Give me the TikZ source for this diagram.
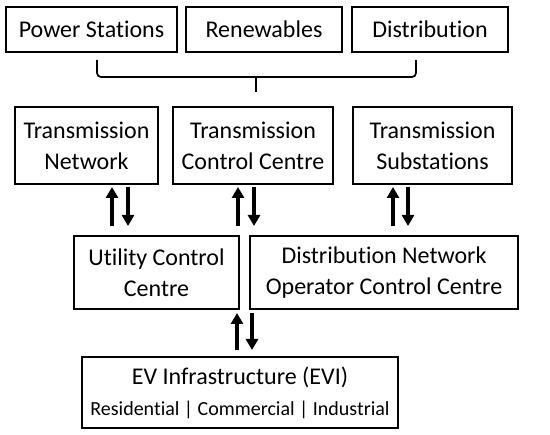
\documentclass[tikz,border=0pt]{standalone}
\usepackage{fontspec}
\setmainfont{Carlito}[Ligatures=NoCommon]
\usetikzlibrary{arrows.meta}
\begin{document}
\begin{tikzpicture}[x=1pt,y=-1pt,
  box/.style={draw, line width=1.7pt, inner sep=0pt, align=center, font=\fontsize{24}{31}\selectfont},
  arr/.style={line width=3.6pt, -{Triangle[length=11pt,width=12pt]}},
  brace/.style={line width=1.7pt, rounded corners=4pt}]
\useasboundingbox (0,0) rectangle (550,435);
% top row
\node[box, minimum width=171, minimum height=45] (ps) at (91.5,29.5) {Power Stations};
\node[box, minimum width=156, minimum height=45] (rw) at (264,29.5) {Renewables};
\node[box, minimum width=156, minimum height=45] (ds) at (430,29.5) {Distribution};
% brace
\coordinate (bl) at (97,60);
\coordinate (br) at (416,60);
\coordinate (bm) at (256,77);
\coordinate (bt) at (256,92);
\draw[brace] (bl) -- (97,77) -- (416,77) -- (br);
\draw[line width=1.7pt] (bm) -- (bt);
% second row
\node[box, minimum width=143, minimum height=77] (tn) at (86.5,145.5) {Transmission\\Network};
\node[box, minimum width=160, minimum height=77] (tcc) at (253,145.5) {Transmission\\Control Centre};
\node[box, minimum width=159, minimum height=77] (ts) at (432.5,145.5) {Transmission\\Substations};
% third row
\node[box, minimum width=165, minimum height=73] (ucc) at (156.5,272.5) {Utility Control\\Centre};
\node[box, minimum width=268, minimum height=73] (dno) at (384,272.5) {Distribution Network\\Operator Control Centre};
% bottom
\node[box, minimum width=316, minimum height=71, font=\fontsize{24}{31}\selectfont] (evi) at (240,392.5) {EV Infrastructure (EVI)\\{\fontsize{20}{22}\selectfont Residential | Commercial | Industrial}};
% arrows
\coordinate (a1u) at (112,187); \coordinate (a1d) at (112,226);
\coordinate (b1u) at (128,187); \coordinate (b1d) at (128,226);
\coordinate (a2u) at (238,187); \coordinate (a2d) at (238,226);
\coordinate (b2u) at (254,187); \coordinate (b2d) at (254,226);
\coordinate (a3u) at (393,187); \coordinate (a3d) at (393,226);
\coordinate (b3u) at (408,187); \coordinate (b3d) at (408,226);
\coordinate (a4u) at (237,313); \coordinate (a4d) at (237,350);
\coordinate (b4u) at (252,313); \coordinate (b4d) at (252,350);
\draw[arr] (a1d) -- (a1u);
\draw[arr] (b1u) -- (b1d);
\draw[arr] (a2d) -- (a2u);
\draw[arr] (b2u) -- (b2d);
\draw[arr] (a3d) -- (a3u);
\draw[arr] (b3u) -- (b3d);
\draw[arr] (a4d) -- (a4u);
\draw[arr] (b4u) -- (b4d);
\end{tikzpicture}
\end{document}
